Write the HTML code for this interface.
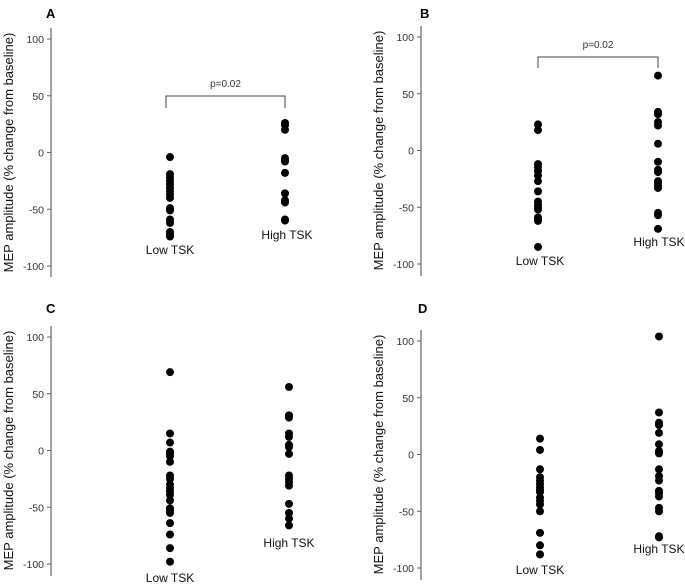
<!DOCTYPE html>
<html><head><meta charset="utf-8"><style>
html,body{margin:0;padding:0;background:#fff;}
svg{display:block;font-family:"Liberation Sans",Arial,sans-serif;}
</style></head><body>
<svg id="chart" width="685" height="584" viewBox="0 0 685 584" xmlns="http://www.w3.org/2000/svg"></svg>
<script>
const categories = ["Low TSK", "High TSK"];
const tickValues = [100, 50, 0, -50, -100];
const aLow = [-4,-19,-22,-25,-28,-31,-34,-37,-40,-49,-51,-59,-62,-70,-72,-74];
const aHigh = [26,24,20,-5,-7,-8,-18,-36,-42,-44,-59,-60];
const bLow = [23,18,-12,-15,-18,-22,-27,-36,-45,-48,-50,-52,-59,-61,-62,-85];
const bHigh = [66,34,32,25,22,6,-10,-17,-19,-27,-29,-31,-33,-55,-57,-69];
const cLow = [69,15,7,-1,-3,-5,-10,-22,-25,-30,-33,-36,-39,-44,-51,-53,-55,-64,-74,-86,-98];
const cHigh = [56,31,29,15,12,5,3,-3,-22,-25,-28,-31,-47,-55,-60,-66];
const dLow = [14,4,-13,-20,-23,-26,-29,-31,-33,-38,-41,-44,-50,-69,-80,-88];
const dHigh = [104,37,28,26,19,9,3,1,-13,-19,-23,-32,-34,-37,-47,-50,-72,-73];
const pText = "p=0.02";

const NS = "http://www.w3.org/2000/svg";
const svg = document.getElementById("chart");
function mk(tag, attrs, parent, text){
  const e = document.createElementNS(NS, tag);
  for (const k in attrs) e.setAttribute(k, attrs[k]);
  if (text !== undefined) e.textContent = text;
  (parent || svg).appendChild(e);
  return e;
}
const panels = [
  {id:"a", letter:"A", lx:46, ly:18, ax:51, y100:39, yn100:266, top:28, bot:277, xs:[170,285], low:aLow, high:aHigh, lab:[[170,254],[287,239]], br:{y:96, t:108, x1:166, x2:285}},
  {id:"b", letter:"B", lx:420, ly:18, ax:421, y100:37, yn100:264, top:26, bot:276, xs:[538,658], low:bLow, high:bHigh, lab:[[540,265],[659,246]], br:{y:57, t:68, x1:538, x2:658}},
  {id:"c", letter:"C", lx:46, ly:313, ax:51, y100:337, yn100:564, top:326, bot:576, xs:[170,289], low:cLow, high:cHigh, lab:[[170,582],[289,547]], br:null},
  {id:"d", letter:"D", lx:418, ly:313, ax:421, y100:341, yn100:568, top:330, bot:580, xs:[540,659], low:dLow, high:dHigh, lab:[[540,574],[659,553]], br:null}
];
panels.forEach(p => {
  const g = mk("g", {});
  
  
  const y = v => p.y100 + (100 - v) * (p.yn100 - p.y100) / 200;
  const t = mk("text", {x:p.lx, y:p.ly, "font-size":13, "font-weight":"bold", fill:"#000"}, g, p.letter);
  
  
  const ax = mk("line", {x1:p.ax, x2:p.ax, y1:p.top, y2:p.bot, stroke:"#666", "stroke-width":1.2}, g);
  
  
  tickValues.forEach(v => {
    mk("line", {x1:p.ax-4, x2:p.ax, y1:y(v), y2:y(v), stroke:"#666"}, g);
    const tl = mk("text", {x:p.ax-7, y:y(v)+4, "font-size":10.5, "text-anchor":"end", fill:"#333"}, g, String(v));
    
    
  });
  const cy = (p.y100 + p.yn100) / 2;
  const yt = mk("text", {x:0, y:0, "font-size":13, "text-anchor":"middle", fill:"#111", transform:`translate(${p.ax-38},${cy}) rotate(-90)`}, g, "MEP amplitude (% change from baseline)");
  
  
  [p.low, p.high].forEach((vals, i) => {
    vals.forEach(v => {
      const c = mk("circle", {cx:p.xs[i], cy:y(v), r:4, fill:"#000"}, g);
      
      
    });
    const cl = mk("text", {x:p.lab[i][0], y:p.lab[i][1], "font-size":12, "text-anchor":"middle", fill:"#111"}, g, categories[i]);
    
    
  });
  if (p.br) {
    const b = p.br;
    const path = mk("path", {d:`M${b.x1},${b.t} V${b.y} H${b.x2} V${b.t}`, fill:"none", stroke:"#444", "stroke-width":1}, g);
    
    
    const pt = mk("text", {x:(b.x1+b.x2)/2, y:b.y-9, "font-size":10, "text-anchor":"middle", fill:"#333"}, g, pText);
    
    
  }
});
</script>
</body></html>
